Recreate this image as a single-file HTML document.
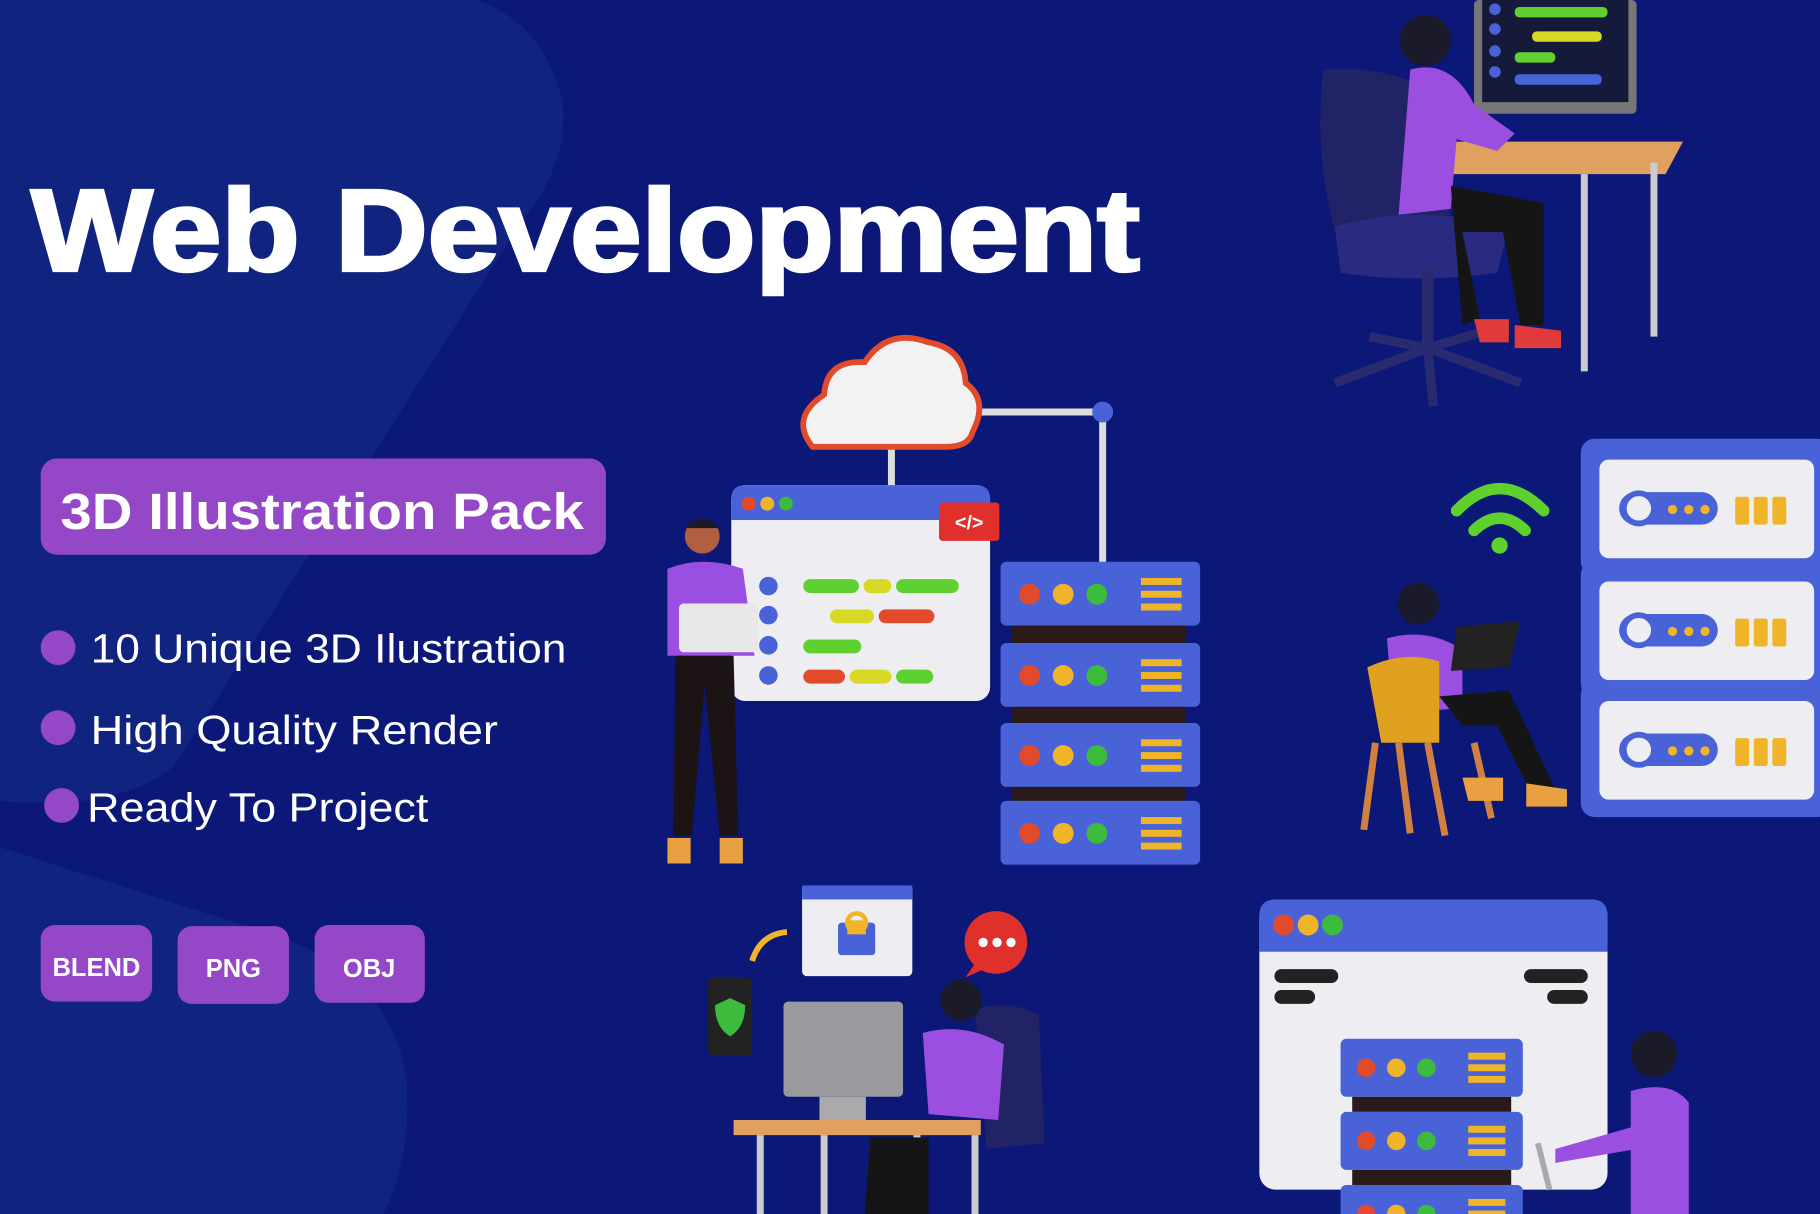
<!DOCTYPE html>
<html><head><meta charset="utf-8"><style>
html,body{margin:0;padding:0;background:#0a1877;}
svg{display:block}
text{font-family:"Liberation Sans",sans-serif}
</style></head><body>
<svg width="1820" height="1214" viewBox="0 0 1568 1046" xmlns="http://www.w3.org/2000/svg">
<rect width="1568" height="1046" fill="#0b1878"/>
<path d="M0 0 L410 0 Q470 20 485 90 Q490 140 450 190 L150 660 Q100 700 0 690 Z" fill="#10237f"/>
<path d="M0 730 L250 810 Q340 850 350 930 Q355 1000 330 1046 L0 1046 Z" fill="#10237f"/>
<text x="27" y="233" font-size="100" font-weight="bold" fill="#fff" stroke="#fff" stroke-width="3" textLength="955" lengthAdjust="spacingAndGlyphs">Web Development</text>
<rect x="35" y="395" width="487" height="83" rx="14" fill="#9447c7"/>
<text x="52" y="456" font-size="44" font-weight="bold" fill="#fff" textLength="451" lengthAdjust="spacingAndGlyphs">3D Illustration Pack</text>
<circle cx="50" cy="558" r="15" fill="#9447c7"/>
<text x="78" y="571" font-size="35" fill="#fff" textLength="410" lengthAdjust="spacingAndGlyphs">10 Unique 3D Ilustration</text>
<circle cx="50" cy="627" r="15" fill="#9447c7"/>
<text x="78" y="641" font-size="35" fill="#fff" textLength="351" lengthAdjust="spacingAndGlyphs">High Quality Render</text>
<circle cx="53" cy="694" r="15" fill="#9447c7"/>
<text x="75" y="708" font-size="35" fill="#fff" textLength="294" lengthAdjust="spacingAndGlyphs">Ready To Project</text>
<rect x="35" y="797" width="96" height="66" rx="12" fill="#9447c7"/>
<rect x="153" y="798" width="96" height="67" rx="12" fill="#9447c7"/>
<rect x="271" y="797" width="95" height="67" rx="12" fill="#9447c7"/>
<text x="83" y="841" font-size="22" font-weight="bold" fill="#fff" text-anchor="middle">BLEND</text>
<text x="201" y="842" font-size="22" font-weight="bold" fill="#fff" text-anchor="middle">PNG</text>
<text x="318" y="842" font-size="22" font-weight="bold" fill="#fff" text-anchor="middle">OBJ</text>

<line x1="768" y1="385" x2="768" y2="420" stroke="#ddd" stroke-width="6"/>
<polyline points="840,355 950,355 950,490" fill="none" stroke="#ddd" stroke-width="6"/>
<circle cx="950" cy="355" r="9" fill="#4a62d8"/>
<path d="M700 385 Q680 360 710 340 Q712 310 745 312 Q765 282 800 295 Q830 300 832 330 Q852 345 838 372 Q835 385 815 385 Z" fill="#f2f2f2" stroke="#e24a2c" stroke-width="5"/>
<rect x="630" y="418" width="223" height="186" rx="12" fill="#eeeef2"/>
<path d="M630 430 Q630 418 642 418 L841 418 Q853 418 853 430 L853 448 L630 448 Z" fill="#4a62d8"/>
<circle cx="645" cy="434" r="6" fill="#e24a2c"/><circle cx="661" cy="434" r="6" fill="#f0b429"/><circle cx="677" cy="434" r="6" fill="#3dbb3d"/>
<rect x="809" y="433" width="52" height="33" rx="3" fill="#e0302c"/>
<text x="835" y="456" font-size="17" font-weight="bold" fill="#fff" text-anchor="middle">&lt;/&gt;</text>
<g fill="#4a62d8"><circle cx="662" cy="505" r="8"/><circle cx="662" cy="530" r="8"/><circle cx="662" cy="556" r="8"/><circle cx="662" cy="582" r="8"/></g>
<rect x="692" y="499" width="48" height="12" rx="6" fill="#5ed12e"/><rect x="744" y="499" width="24" height="12" rx="6" fill="#d7d925"/><rect x="772" y="499" width="54" height="12" rx="6" fill="#5ed12e"/>
<rect x="715" y="525" width="38" height="12" rx="6" fill="#d7d925"/><rect x="757" y="525" width="48" height="12" rx="6" fill="#e24a2c"/>
<rect x="692" y="551" width="50" height="12" rx="6" fill="#5ed12e"/>
<rect x="692" y="577" width="36" height="12" rx="6" fill="#e24a2c"/><rect x="732" y="577" width="36" height="12" rx="6" fill="#d7d925"/><rect x="772" y="577" width="32" height="12" rx="6" fill="#5ed12e"/>
<g id="srv">
<rect x="862" y="484" width="172" height="55" rx="5" fill="#4a62d8"/>
<circle cx="887" cy="512" r="9" fill="#e24a2c"/><circle cx="916" cy="512" r="9" fill="#f0b429"/><circle cx="945" cy="512" r="9" fill="#3dbb3d"/>
<rect x="983" y="498" width="35" height="6" fill="#f0b429"/><rect x="983" y="509" width="35" height="6" fill="#f0b429"/><rect x="983" y="520" width="35" height="6" fill="#f0b429"/>
</g>
<rect x="872" y="539" width="150" height="18" fill="#2a1a1a"/>
<use href="#srv" y="70"/>
<rect x="872" y="609" width="150" height="18" fill="#2a1a1a"/>
<use href="#srv" y="139"/>
<rect x="872" y="678" width="150" height="18" fill="#2a1a1a"/>
<use href="#srv" y="206"/>
<circle cx="605" cy="462" r="15" fill="#b06040"/><path d="M590 455 Q605 438 620 455 Z" fill="#1a1a2a"/>
<path d="M575 490 Q605 478 640 490 L650 565 L575 565 Z" fill="#9a4fe0"/>
<rect x="585" y="520" width="68" height="42" rx="4" fill="#e8e8ea"/>
<path d="M582 565 L632 565 L636 720 L620 720 L607 590 L596 720 L580 720 Z" fill="#1c1414"/>
<rect x="575" y="722" width="20" height="22" fill="#e8a040"/><rect x="620" y="722" width="20" height="22" fill="#e8a040"/>

<rect x="1270" y="0" width="140" height="98" rx="4" fill="#777"/>
<rect x="1277" y="0" width="126" height="88" fill="#161a3a"/>
<g fill="#4a62d8"><circle cx="1288" cy="8" r="5"/><circle cx="1288" cy="25" r="5"/><circle cx="1288" cy="44" r="5"/><circle cx="1288" cy="62" r="5"/></g>
<rect x="1305" y="6" width="80" height="9" rx="4" fill="#5ed12e"/><rect x="1320" y="27" width="60" height="9" rx="4" fill="#d7d925"/><rect x="1305" y="45" width="35" height="9" rx="4" fill="#5ed12e"/><rect x="1305" y="64" width="75" height="9" rx="4" fill="#4a62d8"/>
<path d="M1250 122 L1450 122 L1435 150 L1250 150 Z" fill="#e0a060"/>
<line x1="1365" y1="150" x2="1365" y2="320" stroke="#ccc" stroke-width="6"/><line x1="1425" y1="140" x2="1425" y2="290" stroke="#ccc" stroke-width="6"/>
<path d="M1140 60 Q1190 55 1240 80 L1250 200 L1160 230 Q1130 150 1140 60 Z" fill="#222266"/>
<path d="M1150 195 Q1220 175 1300 195 L1290 235 Q1220 245 1155 235 Z" fill="#2a2a80"/>
<line x1="1230" y1="230" x2="1230" y2="300" stroke="#2a2a70" stroke-width="10"/>
<path d="M1150 330 L1230 300 L1310 330 M1180 290 L1230 300 L1280 285 M1230 300 L1235 350" stroke="#2a2a70" stroke-width="8" fill="none"/>
<path d="M1215 60 Q1250 50 1270 90 L1305 115 L1290 130 L1255 120 L1250 180 L1205 185 Z" fill="#9a4fe0"/>
<circle cx="1228" cy="35" r="22" fill="#1a1a2a"/>
<path d="M1250 160 L1330 175 L1330 280 L1310 280 L1295 200 L1260 200 L1275 275 L1260 280 Z" fill="#151515"/>
<path d="M1270 275 L1300 275 L1300 295 L1275 295 Z M1305 280 L1345 285 L1345 300 L1305 300 Z" fill="#e03a3a"/>

<g id="rs">
<rect x="1362" y="378" width="215" height="118" rx="12" fill="#4a62d8"/>
<rect x="1378" y="396" width="185" height="85" rx="8" fill="#eeeef2"/>
<rect x="1395" y="424" width="85" height="28" rx="14" fill="#4a62d8"/>
<circle cx="1412" cy="438" r="13" fill="#eeeef2" stroke="#4a62d8" stroke-width="5"/>
<circle cx="1441" cy="439" r="4" fill="#f0b429"/><circle cx="1455" cy="439" r="4" fill="#f0b429"/><circle cx="1469" cy="439" r="4" fill="#f0b429"/>
<rect x="1495" y="428" width="12" height="24" rx="2" fill="#f0b429"/><rect x="1511" y="428" width="12" height="24" rx="2" fill="#f0b429"/><rect x="1527" y="428" width="12" height="24" rx="2" fill="#f0b429"/>
</g>
<use href="#rs" y="105"/><use href="#rs" y="208"/>
<path d="M1255 440 Q1292 402 1330 440" fill="none" stroke="#5ed12e" stroke-width="10" stroke-linecap="round"/>
<path d="M1270 457 Q1292 436 1314 457" fill="none" stroke="#5ed12e" stroke-width="10" stroke-linecap="round"/>
<circle cx="1292" cy="470" r="7" fill="#5ed12e"/>
<circle cx="1222" cy="520" r="18" fill="#1a1a2a"/>
<path d="M1195 550 Q1230 540 1260 560 L1260 610 L1200 615 Z" fill="#9a4fe0"/>
<path d="M1255 540 L1310 535 L1300 575 L1250 578 Z" fill="#222"/>
<path d="M1178 575 Q1210 560 1240 570 L1240 640 L1190 640 Z" fill="#e0a020"/>
<path d="M1185 640 L1175 715 M1230 640 L1245 720 M1205 640 L1215 718 M1270 640 L1285 705" stroke="#d08040" stroke-width="6"/>
<path d="M1240 600 L1300 595 L1340 680 L1320 685 L1290 625 L1260 625 Z" fill="#151515"/>
<path d="M1260 670 L1295 670 L1295 690 L1265 690 Z M1315 675 L1350 680 L1350 695 L1315 695 Z" fill="#e8a040"/>

<rect x="691" y="763" width="95" height="78" rx="4" fill="#eeeef2"/>
<rect x="691" y="763" width="95" height="12" fill="#4a62d8"/>
<rect x="722" y="795" width="32" height="28" rx="3" fill="#4a62d8"/><circle cx="738" cy="795" r="8" fill="none" stroke="#f0b429" stroke-width="4"/><rect x="730" y="793" width="16" height="12" fill="#f0b429"/>
<path d="M648 828 Q655 805 678 803" fill="none" stroke="#f0b429" stroke-width="5"/>
<rect x="610" y="842" width="38" height="68" rx="6" fill="#222"/>
<path d="M629 860 L642 866 Q642 885 629 893 Q616 885 616 866 Z" fill="#3dbb3d"/>
<circle cx="858" cy="812" r="27" fill="#e0302c"/><path d="M840 830 L832 842 L850 834 Z" fill="#e0302c"/>
<circle cx="847" cy="812" r="4" fill="#fff"/><circle cx="859" cy="812" r="4" fill="#fff"/><circle cx="871" cy="812" r="4" fill="#fff"/>
<path d="M840 870 Q870 860 895 875 L900 985 L850 990 Z" fill="#222266"/>
<rect x="675" y="863" width="103" height="82" rx="4" fill="#9a9a9e"/>
<rect x="706" y="945" width="40" height="25" fill="#aaa"/>
<circle cx="828" cy="862" r="18" fill="#1a1a2a"/>
<path d="M795 890 Q830 880 865 900 L860 965 L800 960 Z" fill="#9a4fe0"/>
<path d="M632 965 L845 965 L845 978 L632 978 Z" fill="#e0a060"/>
<path d="M655 978 L655 1046 M710 978 L710 1046 M790 978 L790 1046 M840 978 L840 1046" stroke="#ccc" stroke-width="6"/>
<path d="M750 980 L800 980 L800 1046 L745 1046 Z" fill="#151515"/>

<rect x="1085" y="775" width="300" height="250" rx="14" fill="#eeeef2"/>
<path d="M1085 789 Q1085 775 1099 775 L1371 775 Q1385 775 1385 789 L1385 820 L1085 820 Z" fill="#4a62d8"/>
<circle cx="1106" cy="797" r="9" fill="#e24a2c"/><circle cx="1127" cy="797" r="9" fill="#f0b429"/><circle cx="1148" cy="797" r="9" fill="#3dbb3d"/>
<rect x="1098" y="835" width="55" height="12" rx="6" fill="#222"/><rect x="1098" y="853" width="35" height="12" rx="6" fill="#222"/>
<rect x="1313" y="835" width="55" height="12" rx="6" fill="#222"/><rect x="1333" y="853" width="35" height="12" rx="6" fill="#222"/>
<g id="bs">
<rect x="1155" y="895" width="157" height="50" rx="5" fill="#4a62d8"/>
<circle cx="1177" cy="920" r="8" fill="#e24a2c"/><circle cx="1203" cy="920" r="8" fill="#f0b429"/><circle cx="1229" cy="920" r="8" fill="#3dbb3d"/>
<rect x="1265" y="907" width="32" height="6" fill="#f0b429"/><rect x="1265" y="917" width="32" height="6" fill="#f0b429"/><rect x="1265" y="927" width="32" height="6" fill="#f0b429"/>
</g>
<rect x="1165" y="945" width="137" height="13" fill="#2a1a1a"/>
<use href="#bs" y="63"/>
<rect x="1165" y="1008" width="137" height="13" fill="#2a1a1a"/>
<use href="#bs" y="126"/>
<circle cx="1425" cy="908" r="20" fill="#1a1a2a"/>
<path d="M1405 940 Q1440 930 1455 950 L1455 1046 L1405 1046 Z" fill="#9a4fe0"/>
<path d="M1410 970 L1340 990 L1340 1002 L1410 990 Z" fill="#9a4fe0"/>
<path d="M1325 985 L1335 1025" stroke="#aaa" stroke-width="5"/>
</svg>
</body></html>
